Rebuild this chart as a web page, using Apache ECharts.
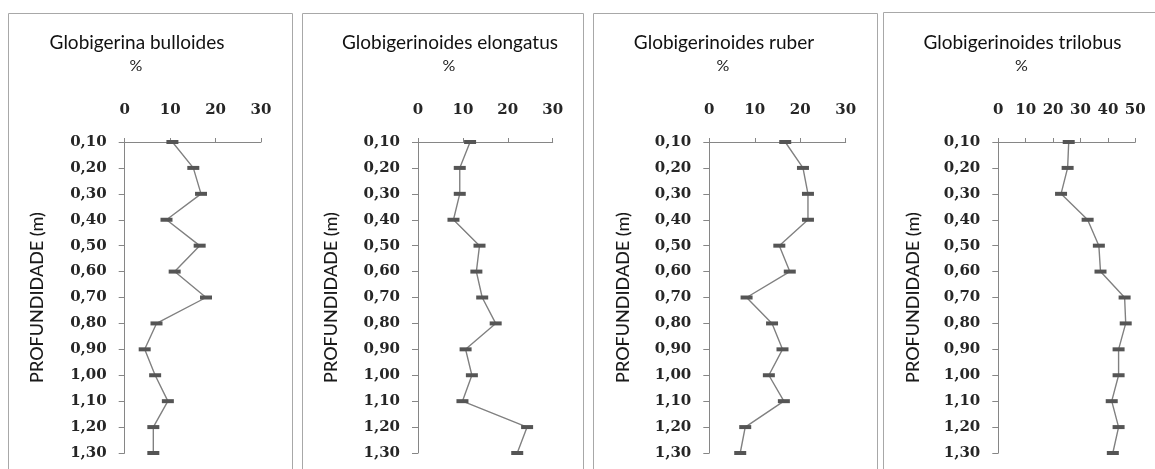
<!DOCTYPE html>
<html>
<head>
<meta charset="utf-8">
<script src="https://cdn.jsdelivr.net/npm/echarts@6/dist/echarts.min.js"></script>
<style>
html,body{margin:0;padding:0;background:#fff;}
#chart{width:1155px;height:469px;}
</style>
</head>
<body>
<div id="chart"></div>
<script>
// Depth categories (m)
const depths = ['0,10','0,20','0,30','0,40','0,50','0,60','0,70','0,80','0,90','1,00','1,10','1,20','1,30'];
// Species titles
const species = ['Globigerina bulloides','Globigerinoides elongatus','Globigerinoides ruber','Globigerinoides trilobus'];
// Percent values per species
const bulloides = [10.5, 15.1, 16.8, 9.2, 16.5, 11.0, 17.9, 7.0, 4.4, 6.7, 9.5, 6.3, 6.3];
const elongatus = [11.6, 9.3, 9.3, 7.9, 13.7, 13.0, 14.3, 17.3, 10.6, 12.0, 9.9, 24.3, 22.1];
const ruber = [16.7, 20.6, 21.7, 21.7, 15.4, 17.7, 8.2, 13.8, 16.1, 13.1, 16.4, 7.9, 6.8];
const trilobus = [25.7, 25.3, 22.9, 32.6, 36.7, 37.3, 46.1, 46.5, 43.9, 43.9, 41.4, 43.9, 41.8];
// Axis maxima
const xMax = [30, 30, 30, 50];
const yAxisName = 'PROFUNDIDADE (m)';
const unitLabel = '%';

const seriesData = [bulloides, elongatus, ruber, trilobus];

// layout
const panels = [
  {left:124.7, width:136.3, box:[8,13,284,480], titleX:137, nameX:46},
  {left:418, width:134.7, box:[302,13,281,480], titleX:450, nameX:340},
  {left:709.3, width:136.4, box:[593,13,284,480], titleX:724, nameX:632},
  {left:998.3, width:137, box:[883,12,300,480], titleX:1022.5, nameX:922}
];

const chart = echarts.init(document.getElementById('chart'));
const axisColor = '#868686';
const labelFont = {fontFamily:'DejaVu Serif', fontWeight:'bold', fontSize:15, color:'#262626'};

const grids = [], xAxes = [], yAxes = [], series = [], graphics = [];
panels.forEach((p, i) => {
  grids.push({left:p.left, width:p.width, top:142, bottom:16, containLabel:false});
  xAxes.push({
    type:'value', gridIndex:i, position:'top', min:0, max:xMax[i], interval:10,
    axisLine:{show:true, lineStyle:{color:axisColor, width:1}},
    axisTick:{show:true, inside:false, length:4, lineStyle:{color:axisColor}},
    splitLine:{show:false},
    axisLabel:Object.assign({margin:24}, labelFont)
  });
  yAxes.push({
    type:'category', gridIndex:i, data:depths, inverse:true, boundaryGap:false,
    axisLine:{show:true, onZero:false, lineStyle:{color:axisColor, width:1}},
    axisTick:{show:true, inside:false, length:6, alignWithLabel:true, lineStyle:{color:axisColor}},
    splitLine:{show:false},
    axisLabel:Object.assign({margin:18}, labelFont),
    name:yAxisName, nameLocation:'middle', nameRotate:90, nameGap:p.left - p.nameX,
    nameTextStyle:{fontFamily:'Lato', fontSize:18, color:'#1a1a1a', fontWeight:500}
  });
  series.push({
    type:'line', xAxisIndex:i, yAxisIndex:i,
    data:seriesData[i].map((v, k) => [v, depths[k]]),
    lineStyle:{color:'#808080', width:1.4},
    symbol:'rect', symbolSize:[12,4], showSymbol:true,
    itemStyle:{color:'#555555'},
    silent:true, animation:false
  });
  graphics.push({type:'rect', shape:{x:p.box[0]+0.5, y:p.box[1]+0.5, width:p.box[2], height:p.box[3]},
    style:{fill:'none', stroke:'#a8a8a8', lineWidth:1}});
  graphics.push({type:'text', x:p.titleX, y:43, style:{text:species[i], fontFamily:'Lato', fontSize:19,
    fill:'#111', textAlign:'center', textVerticalAlign:'middle'}});
  graphics.push({type:'text', x:p.titleX - 1, y:66, style:{text:unitLabel, fontFamily:'Lato', fontSize:16,
    fill:'#222', textAlign:'center', textVerticalAlign:'middle'}});
});

chart.setOption({
  animation:false,
  grid:grids, xAxis:xAxes, yAxis:yAxes, series:series, graphic:graphics
});
</script>
</body>
</html>
